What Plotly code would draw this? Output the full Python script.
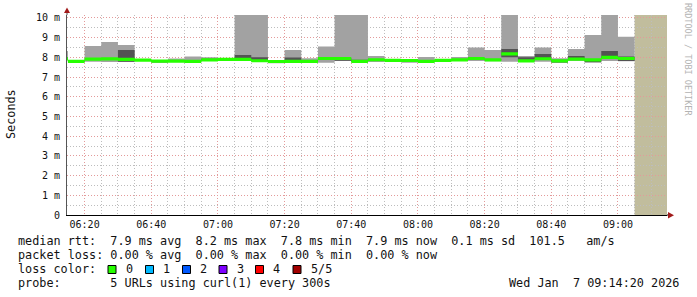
import plotly.graph_objects as go
from datetime import datetime, timedelta

DAY = "2026-01-07"
# 5-minute interval start times
starts = ["06:10", "06:15", "06:20", "06:25", "06:30", "06:35", "06:40", "06:45",
          "06:50", "06:55", "07:00", "07:05", "07:10", "07:15", "07:20", "07:25",
          "07:30", "07:35", "07:40", "07:45", "07:50", "07:55", "08:00", "08:05",
          "08:10", "08:15", "08:20", "08:25", "08:30", "08:35", "08:40", "08:45",
          "08:50", "08:55", "09:00"]
# sorted ping values (milliseconds) per interval: min, 2nd, median, 4th, max
p1 = [7.85, 7.76, 7.78, 7.77, 7.77, 7.82, 7.72, 7.76, 7.76, 7.82, 7.86, 7.82,
      7.77, 7.70, 7.75, 7.77, 7.73, 7.82, 7.76, 7.77, 7.82, 7.73, 7.77, 7.81,
      7.82, 7.82, 7.80, 7.78, 7.78, 7.78, 7.73, 7.82, 7.74, 7.82, 7.80]
p2 = [7.88, 7.78, 7.88, 7.88, 7.78, 7.84, 7.78, 7.78, 7.78, 7.84, 7.88, 7.86,
      7.80, 7.76, 7.78, 7.78, 7.88, 7.83, 7.78, 7.84, 7.83, 7.80, 7.78, 7.83,
      7.85, 7.90, 7.84, 8.00, 7.80, 7.90, 7.74, 7.88, 7.75, 7.95, 7.82]
median = [7.92, 7.80, 7.91, 7.92, 7.90, 7.86, 7.81, 7.81, 7.80, 7.87, 7.90, 7.90,
          7.83, 7.79, 7.80, 7.80, 7.94, 7.94, 7.80, 7.88, 7.85, 7.84, 7.80, 7.85,
          7.87, 7.94, 7.87, 8.18, 7.82, 7.93, 7.82, 7.91, 7.87, 8.00, 7.94]
p4 = [8.00, 7.82, 7.95, 7.96, 8.38, 7.88, 7.84, 7.86, 7.86, 7.93, 7.93, 8.12,
      8.00, 7.82, 7.99, 7.86, 7.98, 7.97, 7.88, 7.92, 7.87, 7.87, 7.86, 7.87,
      7.90, 7.98, 7.92, 8.43, 8.00, 8.17, 7.88, 8.07, 7.92, 8.32, 8.04]
p5 = [8.32, 7.84, 8.58, 8.78, 8.63, 7.90, 7.86, 7.94, 8.04, 8.00, 7.96, 10.6,
      10.6, 7.85, 8.38, 7.95, 8.55, 10.6, 10.6, 8.07, 7.89, 7.89, 8.02, 7.89,
      8.02, 8.50, 8.38, 10.6, 8.07, 8.50, 7.95, 8.43, 9.14, 10.6, 9.04]
unknown_start = "09:05"
range_start = "06:14:43"
range_end = "09:14:43"

y_ticks = list(range(0, 11))
y_tick_text = ["0"] + [f"{v} m" for v in range(1, 11)]

W, H = 697, 297
L, R, T, B = 67, 30, 15, 82
PW, PH = W - L - R, H - T - B


def px(x):
    return (x - L) / PW


def py(y):
    return (T + PH - y) / PH


def t(s):
    fmt = "%H:%M:%S" if s.count(":") == 2 else "%H:%M"
    return datetime.strptime(DAY + " " + s, "%Y-%m-%d " + fmt)


step = timedelta(minutes=5)
xs = [t(s) for s in starts] + [t(starts[-1]) + step]


def sy(v):
    return list(v) + [v[-1]]


fig = go.Figure()
band = 0.08


def add_pair(lo, hi, color):
    fig.add_trace(go.Scatter(x=xs, y=sy(lo), mode="lines", line=dict(width=0, shape="hv"),
                             hoverinfo="skip", showlegend=False))
    fig.add_trace(go.Scatter(x=xs, y=sy(hi), mode="lines", line=dict(width=0, shape="hv"),
                             fill="tonexty", fillcolor=color, hoverinfo="skip", showlegend=False))


add_pair(p1, p5, "#a2a2a2")
add_pair(p2, p4, "#535353")
add_pair([m - band for m in median], [m + band for m in median], "#26ff00")

mono = "DejaVu Sans Mono"
MAJ = "#e39a9a"
MIN = "#bdbdbd"
DASH = "1px,2px"
fig.update_layout(
    width=W, height=H, margin=dict(l=L, r=R, t=T, b=B),
    paper_bgcolor="white", plot_bgcolor="white", showlegend=False,
    xaxis=dict(type="date", range=[t(range_start), t(range_end)],
               tick0=t("06:20"), dtick=1200000, tickformat="%H:%M",
               showgrid=True, gridcolor=MAJ, griddash=DASH, gridwidth=1,
               minor=dict(dtick=300000, showgrid=True, gridcolor=MIN,
                          griddash=DASH, gridwidth=1),
               showline=True, linecolor="black", linewidth=1,
               tickfont=dict(family=mono, size=10, color="#111"), zeroline=False),
    yaxis=dict(range=[0, 10.15], tickvals=y_ticks, ticktext=y_tick_text,
               showgrid=True, gridcolor=MAJ, griddash=DASH, gridwidth=1,
               minor=dict(tickvals=[v + 0.5 for v in range(10)], showgrid=True,
                          gridcolor=MIN, griddash=DASH, gridwidth=1),
               showline=True, linecolor="#555", linewidth=1,
               ticklabelstandoff=4,
               tickfont=dict(family=mono, size=10, color="#111"), zeroline=False),
)

# unknown-data region
fig.add_shape(type="rect", xref="x", yref="paper", x0=t(unknown_start), x1=t(range_end),
              y0=0, y1=1, fillcolor="#c1bd9d", line=dict(width=0), layer="below")

# axis extension and arrows
fig.add_shape(type="line", xref="paper", yref="paper", x0=px(67), x1=px(67),
              y0=1, y1=py(11), line=dict(color="#555", width=1))
fig.add_shape(type="path", xref="paper", yref="paper",
              path=f"M {px(64)} {py(13)} L {px(70)} {py(13)} L {px(67)} {py(7.5)} Z",
              fillcolor="#a11a1a", line=dict(width=0))
fig.add_shape(type="path", xref="paper", yref="paper",
              path=f"M {px(668)} {py(212)} L {px(668)} {py(218.5)} L {px(674)} {py(215.2)} Z",
              fillcolor="#a11a1a", line=dict(width=0))
fig.add_shape(type="line", xref="paper", yref="paper", x0=1, x1=px(668),
              y0=0, y1=0, line=dict(color="black", width=1))


def nb(s):
    return s.replace(" ", "\u00a0")


FS = 11.8
ann = []
ann.append(dict(text="Seconds", x=px(11), y=py(114), textangle=-90,
                font=dict(family=mono, size=FS, color="#111")))
ann.append(dict(text=nb("RRDTOOL / TOBI OETIKER"), x=px(688), y=py(59), textangle=90,
                font=dict(family=mono, size=8.5, color="#b3b3b3")))
lines = [
    "median rtt:  7.9 ms avg  8.2 ms max  7.8 ms min  7.9 ms now  0.1 ms sd  101.5   am/s",
    "packet loss: 0.00 % avg  0.00 % max  0.00 % min  0.00 % now",
    "loss color:",
    "probe:       5 URLs using curl(1) every 300s",
]
for i, s in enumerate(lines):
    ann.append(dict(text=nb(s), x=px(16), y=py(241 + 14 * i), xanchor="left",
                    font=dict(family=mono, size=FS, color="#111")))
ann.append(dict(text=nb("Wed Jan  7 09:14:20 2026"), x=px(681), y=py(283), xanchor="right",
                font=dict(family=mono, size=FS, color="#111")))

loss_labels = ["0", "1", "2", "3", "4", "5/5"]
loss_colors = ["#26ff00", "#00b8ff", "#0059ff", "#7e00ff", "#ff0000", "#a10000"]
sq_left = [108, 145.5, 182.5, 219, 255.5, 293]
for lab, col, x0 in zip(loss_labels, loss_colors, sq_left):
    fig.add_shape(type="rect", xref="paper", yref="paper", x0=px(x0), x1=px(x0 + 8),
                  y0=py(273.5), y1=py(265.5), fillcolor=col, line=dict(color="black", width=1))
    ann.append(dict(text=lab, x=px(x0 + 15.5), y=py(269), xanchor="left",
                    font=dict(family=mono, size=FS, color="#111")))

for a in ann:
    a.update(xref="paper", yref="paper", showarrow=False, yanchor=a.get("yanchor", "middle"))
    a.setdefault("xanchor", "center")
    fig.add_annotation(**a)

fig.write_html("out.html")
